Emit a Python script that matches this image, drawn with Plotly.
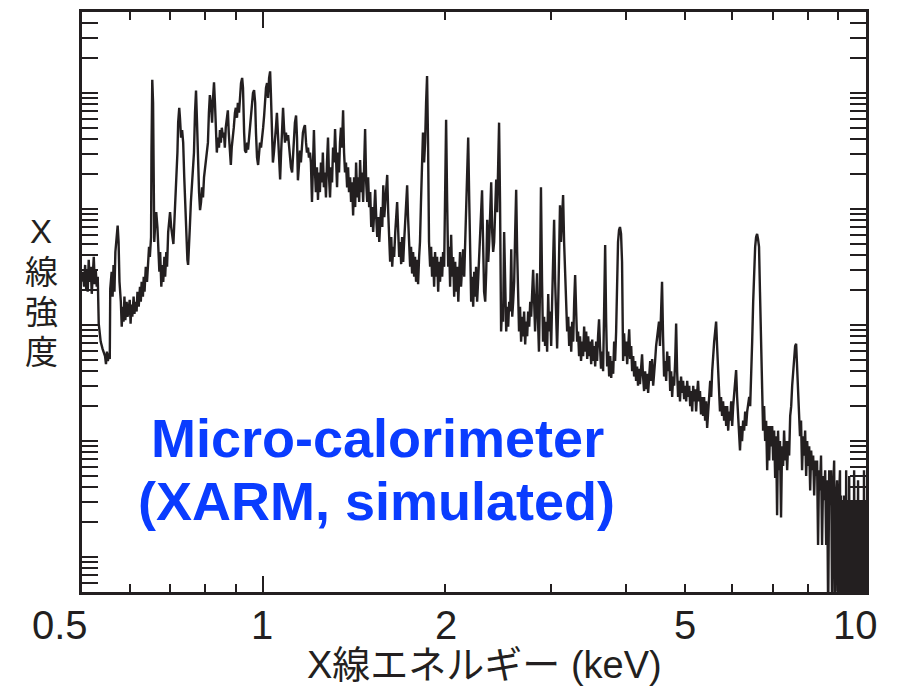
import math
import plotly.graph_objects as go

# Simulated micro-calorimeter spectrum
# (energy in keV, intensity in arbitrary counts; 0.3 = empty bins below the axis)
seg_a = [(0.500,236),(0.502,288),(0.504,214),(0.506,330),(0.508,205),(0.510,300),(0.511,194),(0.513,365),
         (0.515,236),(0.517,318),(0.519,186),(0.521,288),(0.523,387),(0.525,225),(0.527,300),(0.529,214),
         (0.531,261),(0.533,103),(0.537,72),(0.541,62),(0.546,54),(0.548,46),(0.550,59),(0.552,49),
         (0.554,57),(0.556,51),(0.557,205),(0.560,288),(0.562,176),(0.564,330),(0.566,194),(0.568,427),
         (0.570,574),(0.573,720),(0.575,520),(0.577,236),(0.580,159),(0.582,97),(0.584,144),(0.586,107),
         (0.588,176),(0.590,110),(0.593,159),(0.595,118),(0.597,131),(0.600,165),(0.602,103),(0.604,150),
         (0.606,118),(0.609,176),(0.611,125),(0.613,159),(0.616,131),(0.618,194),(0.621,144),(0.624,214),
         (0.626,159),(0.628,236),(0.631,176),(0.633,261),(0.635,194),(0.638,318),(0.641,236),(0.643,365),
         (0.646,472),(0.648,387),(0.651,574),(0.652,3070),(0.654,13000),(0.656,8250),(0.657,1150),(0.659,520)]
seg_b = [(0.661,700),(0.664,940),(0.667,700),(0.669,472),(0.672,288),(0.674,427),(0.677,214),(0.680,330),
         (0.682,236),(0.685,387),(0.687,261),(0.690,427),(0.692,318),(0.695,634),(0.698,853),(0.700,940),
         (0.703,700),(0.706,574),(0.709,500),(0.711,700),(0.714,1150),(0.717,1700),(0.720,3070),(0.722,5560),
         (0.725,7470),(0.727,6130),(0.730,4130),(0.733,4800),(0.736,3740),(0.739,1880),(0.742,940),(0.745,520),
         (0.748,365),(0.750,330),(0.753,472),(0.755,700),(0.758,1150),(0.761,1540),(0.764,1880),(0.767,3070),
         (0.770,6770),(0.773,10500),(0.776,5560),(0.779,2290),(0.782,1400),(0.785,980),(0.788,1150),(0.791,1540),
         (0.794,1260),(0.797,1880),(0.800,2290),(0.803,2600),(0.806,3070),(0.809,3740),(0.812,6770),(0.815,9600),
         (0.818,8250),(0.822,5560),(0.825,9100),(0.828,12400),(0.831,8250),(0.834,4560),(0.837,3070),(0.840,4130),
         (0.844,3390),(0.847,4800),(0.850,3740),(0.853,5030),(0.857,4130),(0.860,4560),(0.863,3390),(0.866,5030),
         (0.870,6130),(0.873,7100),(0.876,4560),(0.880,3070),(0.883,2400),(0.886,3390),(0.890,4130),(0.893,5030),
         (0.897,6770),(0.900,7470),(0.904,6130),(0.907,8250),(0.911,6770),(0.915,10000),(0.918,12200),(0.922,13500),
         (0.925,11100),(0.929,4560),(0.932,3200),(0.936,3070),(0.940,3740),(0.943,3250),(0.947,4130),(0.950,5030),
         (0.954,6770),(0.958,8250),(0.961,10000),(0.965,10600),(0.969,8250),(0.972,4560),(0.976,2780),(0.980,2400),
         (0.984,3070),(0.987,3740),(0.991,3390),(0.995,4560),(0.999,5030)]
seg_c = [(1.003,6450),(1.006,8250),(1.010,11100),(1.014,12200),(1.018,9100),(1.022,13500),(1.026,15400),(1.029,10000),
         (1.033,4130),(1.037,2520),(1.041,3070),(1.045,3740),(1.049,5030),(1.053,6770),(1.057,4560),(1.061,2520),
         (1.066,1800),(1.070,3070),(1.074,5030),(1.078,7470),(1.082,5030),(1.086,3740),(1.090,4560),(1.094,3900),
         (1.099,4350),(1.103,3390),(1.107,2780),(1.111,2290),(1.116,2070),(1.120,3070),(1.124,4560),(1.128,5560),
         (1.133,6400),(1.137,4130),(1.141,1770),(1.146,2520),(1.150,3200),(1.154,2520),(1.159,3740),(1.163,4560),
         (1.168,5030),(1.172,5300),(1.177,3740),(1.181,3070),(1.186,3390),(1.190,2780),(1.195,3070),(1.199,2520),
         (1.204,1150),(1.208,2290),(1.213,4800),(1.218,2070),(1.222,1400),(1.227,2290),(1.232,1200),(1.236,2070),
         (1.241,1400),(1.246,2520),(1.251,1700),(1.255,3070),(1.260,1540),(1.265,2070),(1.270,1260),(1.275,2520),
         (1.280,4130),(1.285,1880),(1.290,1260),(1.295,2290),(1.300,1700),(1.305,3390),(1.310,2520),(1.315,4900),
         (1.320,2290),(1.325,1540),(1.330,3070),(1.335,2070),(1.340,3740),(1.345,5030),(1.350,3390),(1.356,7100),
         (1.361,3070),(1.366,2070),(1.371,2520),(1.377,1540),(1.382,2290),(1.387,1400),(1.393,1880),(1.398,1150),
         (1.403,1700),(1.409,880),(1.414,1880),(1.420,1040),(1.425,2520),(1.431,1260),(1.436,1880),(1.442,1150),
         (1.447,2650)]
seg_d = [(1.453,1400),(1.458,2070),(1.464,1150),(1.470,2520),(1.475,4900),(1.481,1700),(1.487,1150),(1.492,1880),
         (1.498,1040),(1.504,1400),(1.510,700),(1.515,1040),(1.521,634),(1.527,940),(1.533,1470),(1.539,853),
         (1.545,574),(1.551,853),(1.557,520),(1.563,772),(1.569,1040),(1.575,700),(1.581,1600),(1.587,853),
         (1.593,1150),(1.599,1400),(1.605,1970),(1.611,940),(1.617,520),(1.623,351),(1.630,574),(1.636,318),
         (1.642,472),(1.648,387),(1.655,634),(1.661,853),(1.667,1150),(1.674,634),(1.680,387),(1.686,520),
         (1.693,335),(1.699,574),(1.706,351),(1.712,520),(1.719,772),(1.725,1150),(1.732,1600),(1.738,853),
         (1.745,427),(1.752,318),(1.758,472),(1.765,278),(1.772,427),(1.779,261),(1.785,387),(1.792,236),
         (1.799,365),(1.806,225),(1.813,387),(1.819,520),(1.826,1150),(1.833,2520),(1.840,4560),(1.848,2520),
         (1.855,3740),(1.862,8250),(1.869,14000),(1.876,3740),(1.883,520),(1.891,318),(1.898,472),(1.905,261),
         (1.913,387),(1.920,214),(1.927,427),(1.935,261),(1.942,387),(1.950,194),(1.957,351),(1.964,236),
         (1.972,387),(1.980,261),(1.987,427),(1.995,318),(2.003,1150),(2.010,5900),(2.018,1150),(2.026,318),
         (2.034,472),(2.041,214),(2.049,600),(2.057,261),(2.065,387),(2.073,176),(2.081,351),(2.089,194),
         (2.097,318),(2.106,159),(2.114,288),(2.120,427)]
seg_e = [(2.128,214),(2.137,330),(2.145,450),(2.154,261),(2.162,520),(2.170,1150),(2.179,2520),(2.187,4130),
         (2.196,1150),(2.204,236),(2.212,159),(2.221,261),(2.229,144),(2.238,288),(2.246,176),(2.254,318),
         (2.263,159),(2.271,236),(2.280,351),(2.288,520),(2.297,940),(2.306,1450),(2.315,520),(2.324,194),
         (2.334,159),(2.343,288),(2.352,810),(2.361,351),(2.370,520),(2.379,1150),(2.388,1700),(2.397,634),
         (2.406,427),(2.415,520),(2.425,1150),(2.434,1800),(2.443,940),(2.452,2070),(2.461,5560),(2.470,1150),
         (2.480,88),(2.490,144),(2.499,107),(2.509,634),(2.519,159),(2.529,88),(2.539,144),(2.548,97),
         (2.558,159),(2.568,131),(2.578,450),(2.588,118),(2.597,159),(2.607,236),(2.617,634),(2.627,1470),
         (2.637,427),(2.646,131),(2.656,88),(2.666,144),(2.677,72),(2.687,118),(2.698,80),(2.708,131),
         (2.719,68),(2.729,107),(2.740,80),(2.750,131),(2.761,97),(2.772,159),(2.782,118),(2.793,194),
         (2.803,300),(2.814,159),(2.824,88),(2.835,159),(2.845,280),(2.856,107),(2.866,59),(2.877,194),
         (2.888,1540),(2.900,236),(2.911,72),(2.923,118),(2.934,66),(2.946,107),(2.957,59),(2.969,185),
         (2.980,88),(2.992,131),(3.003,66),(3.014,159),(3.026,427),(3.037,810),(3.049,236),(3.060,88),
         (3.072,63),(3.083,131),(3.095,427),(3.106,1080)]
seg_f = [(3.118,520),(3.131,940),(3.143,1320),(3.155,520),(3.168,250),(3.180,159),(3.192,88),(3.205,118),
         (3.217,66),(3.230,97),(3.242,59),(3.254,107),(3.267,72),(3.279,159),(3.291,270),(3.304,131),
         (3.316,72),(3.328,88),(3.341,54),(3.353,80),(3.366,49),(3.380,72),(3.393,54),(3.406,97),
         (3.420,59),(3.433,88),(3.446,51),(3.459,80),(3.473,54),(3.486,72),(3.499,46),(3.513,75),
         (3.526,49),(3.539,66),(3.553,44),(3.566,72),(3.579,49),(3.592,80),(3.606,112),(3.619,66),
         (3.633,42),(3.648,59),(3.662,40),(3.676,131),(3.691,490),(3.705,107),(3.719,44),(3.734,59),
         (3.748,36),(3.763,54),(3.777,35),(3.791,49),(3.806,38),(3.820,72),(3.834,49),(3.849,88),
         (3.863,236),(3.877,520),(3.892,660),(3.906,700),(3.922,610),(3.937,351),(3.953,49),(3.968,85),
         (3.984,54),(3.999,72),(4.015,46),(4.030,66),(4.046,92),(4.061,51),(4.077,66),(4.092,40),
         (4.108,54),(4.123,36),(4.139,49),(4.154,33),(4.170,44),(4.185,30),(4.201,42),(4.216,31),
         (4.233,46),(4.250,56),(4.266,36),(4.283,27),(4.300,40),(4.317,28),(4.333,38),(4.350,26),
         (4.367,36),(4.384,49),(4.400,33),(4.417,51),(4.434,30),(4.451,36),(4.467,49),(4.484,66),
         (4.501,80),(4.518,88),(4.534,107),(4.551,66)]
seg_g = [(4.569,107),(4.587,236),(4.605,80),(4.623,36),(4.642,49),(4.660,33),(4.678,59),(4.696,40),
         (4.714,54),(4.732,27),(4.750,40),(4.768,24),(4.786,36),(4.804,30),(4.823,49),(4.841,103),
         (4.859,40),(4.877,24),(4.895,33),(4.913,22),(4.933,36),(4.952,26),(4.972,33),(4.991,23),
         (5.011,30),(5.030,22),(5.050,33),(5.069,24),(5.089,30),(5.108,20),(5.128,27),(5.147,18),
         (5.167,30),(5.186,22),(5.206,28),(5.225,18),(5.245,26),(5.264,33),(5.284,22),(5.303,27),
         (5.324,17),(5.345,24),(5.366,16.5),(5.387,24),(5.408,15),(5.429,22),(5.450,13),(5.471,20),
         (5.492,24),(5.514,33),(5.535,24),(5.556,40),(5.577,59),(5.598,72),(5.619,88),(5.640,107),
         (5.661,66),(5.682,40),(5.703,24),(5.724,18),(5.747,24),(5.770,16.5),(5.792,22),(5.815,15),
         (5.838,20),(5.861,13.5),(5.883,20),(5.906,12.3),(5.929,18),(5.952,15),(5.974,22),(5.997,13.5),
         (6.020,20),(6.043,27),(6.065,33),(6.088,41),(6.111,24),(6.134,15),(6.156,11),(6.179,8.3),
         (6.204,13.5),(6.228,10),(6.253,15),(6.277,12.3),(6.302,18),(6.326,13.5),(6.351,18),(6.375,22),
         (6.400,24),(6.424,20),(6.449,33),(6.473,72),(6.498,159),(6.522,288),(6.547,472),(6.571,574),
         (6.596,610),(6.620,550),(6.645,472),(6.669,194)]
seg_h = [(6.696,72),(6.722,35),(6.749,12.3),(6.775,20),(6.802,10),(6.828,15),(6.855,5.6),(6.881,13.5),
         (6.908,6.8),(6.934,13.5),(6.961,9),(6.987,13.5),(7.014,6.8),(7.040,12.3),(7.067,4.8),(7.093,11),
         (7.120,2.3),(7.146,12.3),(7.173,5.6),(7.199,10),(7.228,2.2),(7.256,9),(7.285,6.1),(7.313,12.3),
         (7.342,6.8),(7.371,10),(7.399,5.6),(7.428,10),(7.456,7.5),(7.485,16.5),(7.514,20),(7.542,30),
         (7.571,40),(7.599,54),(7.628,66),(7.657,69),(7.685,40),(7.714,27),(7.742,18),(7.771,11),
         (7.802,15),(7.833,5.6),(7.863,11),(7.894,7.5),(7.925,12.3),(7.956,5),(7.987,10),(8.018,6.1),
         (8.049,9),(8.079,3.75),(8.110,8.3),(8.141,5.6),(8.172,7.5),(8.203,3.4),(8.234,6.8),(8.265,5),
         (8.295,6.8),(8.326,1.27),(8.357,5.6),(8.388,3.75),(8.421,7.5),(8.455,1.27),(8.488,5),(8.521,3.1),
         (8.555,5.6),(8.588,1.27),(8.621,4.6),(8.654,0.3),(8.688,5.6),(8.721,2.8),(8.754,5.6),(8.787,0.3),
         (8.821,3.75),(8.854,6.8),(8.887,0.3),(8.921,3.1),(8.954,4.6),(8.987,0.3),(9.021,3.1),(9.054,5.6),
         (9.072,0.3),(9.090,3.4),(9.108,0.3),(9.126,3.1),(9.144,0.3),(9.162,3.1),(9.180,0.3),(9.198,3.4),
         (9.216,0.3),(9.234,3.1),(9.252,0.3),(9.270,5.6),(9.288,0.3),(9.306,3.1),(9.324,0.3),(9.342,3.1),
         (9.360,0.3),(9.378,5),(9.396,0.3),(9.414,3.1),(9.432,0.3),(9.450,3.1),(9.468,0.3),(9.486,2.5),
         (9.503,0.3),(9.521,3.1),(9.539,0.3),(9.557,5.6),(9.575,0.3),(9.593,3.1),(9.611,0.3),(9.629,3.1),
         (9.647,0.3),(9.665,3.1),(9.683,0.3),(9.701,4.6),(9.719,0.3),(9.737,3.1),(9.755,0.3),(9.773,3.1),
         (9.792,0.3),(9.811,2.5),(9.830,0.3),(9.849,3.1),(9.868,0.3),(9.887,3.1),(9.906,0.3),(9.924,5.6),
         (9.943,0.3),(9.962,3.1),(9.981,0.3),(10.0,3.1)]

segments = [seg_a, seg_b, seg_c, seg_d, seg_e, seg_f, seg_g, seg_h]
energy = [e for seg in segments for e, _ in seg]
intensity = [v for seg in segments for _, v in seg]

x_tick_vals = [0.5, 1, 2, 5, 10]
x_tick_text = ["0.5", "1", "2", "5", "10"]
x_label_shift = [-22, -1, 1, 0, -11]
x_minor_vals = [0.6, 0.7, 0.8, 0.9, 3, 4, 6, 7, 8, 9]
y_major_vals = [1, 10, 100, 1000, 10000]
y_minor_vals = [m * d for d in [0.1, 1, 10, 100, 1000, 10000] for m in range(2, 10)]

x_title = "X線エネルギー (keV)"
y_title_chars = ["X", "線", "強", "度"]
label_lines = ["Micro-calorimeter", "(XARM, simulated)"]

INK = "#231f20"
BLUE = "#0a3cff"
LAT = "Liberation Sans Narrow, Liberation Sans, sans-serif"
JP = "Liberation Sans, Noto Sans CJK JP, sans-serif"
LABEL_FONT = "Liberation Sans, Arial, sans-serif"

fig = go.Figure()
fig.add_trace(go.Scatter(x=energy, y=intensity, mode="lines",
                         line=dict(color=INK, width=2.4), showlegend=False, hoverinfo="skip"))
# invisible trace to activate the overlay axis used for the long tick at 1 keV
fig.add_trace(go.Scatter(x=[1], y=[1], xaxis="x2", mode="markers",
                         marker=dict(opacity=0), showlegend=False, hoverinfo="skip"))

xr = [math.log10(0.5), 1.0]
yr = [math.log10(0.5), math.log10(50000)]

annotations = []
for v, t, s in zip(x_tick_vals, x_tick_text, x_label_shift):
    annotations.append(dict(text=t, xref="x", yref="paper", x=math.log10(v), y=-0.057,
                            xanchor="center", yanchor="middle", xshift=s, showarrow=False,
                            font=dict(family=LAT, size=40, color=INK)))
annotations.append(dict(text=x_title, xref="paper", yref="paper", x=0.513, y=-0.125,
                        xanchor="center", yanchor="middle", showarrow=False,
                        font=dict(family=JP, size=38, color=INK)))
for i, ch in enumerate(y_title_chars):
    annotations.append(dict(text=ch, xref="paper", yref="paper", x=-0.052,
                            y=(592 - 230 - 40.5 * i) / 583.0, xanchor="center", yanchor="middle",
                            showarrow=False, font=dict(family=JP, size=33, color=INK)))
# blue label, one annotation per line
for t, yc, xc in zip(label_lines, [437, 501], [0.377, 0.375]):
    annotations.append(dict(text="<b>" + t + "</b>", xref="paper", yref="paper", x=xc,
                            y=(592 - yc) / 583.0, xanchor="center", yanchor="middle",
                            showarrow=False, font=dict(family=LABEL_FONT, size=54, color=BLUE)))

fig.update_layout(
    width=905, height=689,
    margin=dict(l=82, r=39, t=9, b=97),
    paper_bgcolor="white", plot_bgcolor="white",
    xaxis=dict(type="log", range=xr, tickmode="array", tickvals=x_tick_vals,
               ticks="inside", ticklen=8, tickwidth=2, tickcolor=INK, showticklabels=False,
               showline=True, linecolor=INK, linewidth=2.5, mirror="allticks",
               showgrid=False, zeroline=False,
               minor=dict(tickmode="array", tickvals=x_minor_vals, ticks="inside",
                          ticklen=8, tickwidth=2, tickcolor=INK, showgrid=False)),
    xaxis2=dict(type="log", range=xr, overlaying="x", side="bottom", tickmode="array",
                tickvals=[1], ticks="inside", ticklen=16, tickwidth=2, tickcolor=INK,
                showticklabels=False, showgrid=False, zeroline=False, showline=False,
                mirror="allticks"),
    yaxis=dict(type="log", range=yr, tickmode="array", tickvals=y_major_vals,
               ticks="inside", ticklen=16, tickwidth=2, tickcolor=INK, showticklabels=False,
               showline=True, linecolor=INK, linewidth=2.5, mirror="allticks",
               showgrid=False, zeroline=False,
               minor=dict(tickmode="array", tickvals=y_minor_vals, ticks="inside",
                          ticklen=8, tickwidth=2, tickcolor=INK, showgrid=False)),
    annotations=annotations,
)

fig.write_html("out.html")
